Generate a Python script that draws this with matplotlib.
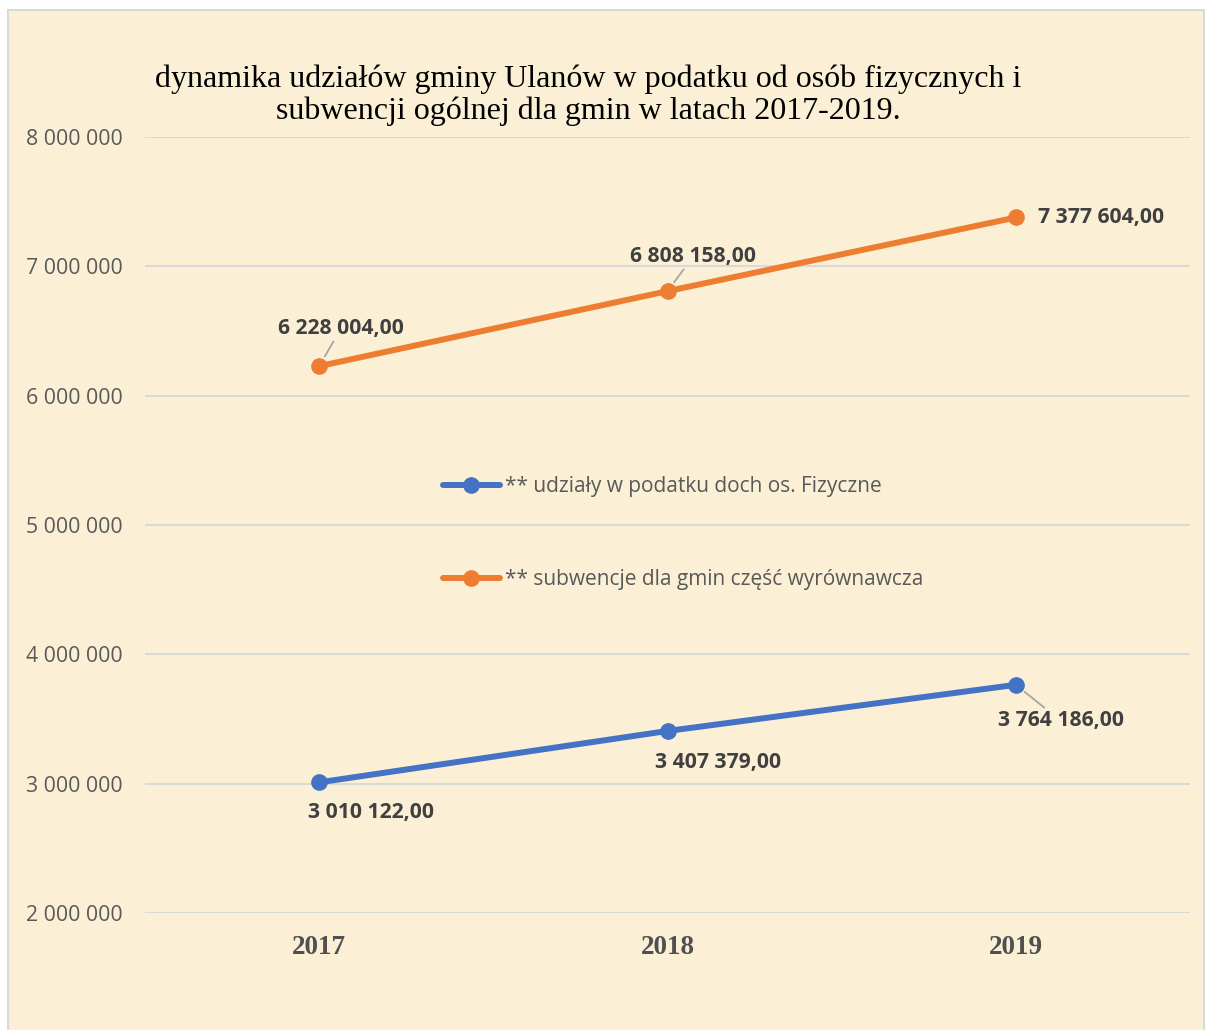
import matplotlib.pyplot as plt
from matplotlib.patches import Rectangle

years = ["2017", "2018", "2019"]
pit_shares = [3010122.00, 3407379.00, 3764186.00]
subsidies = [6228004.00, 6808158.00, 7377604.00]
pit_label = "** udziały w podatku doch os. Fizyczne"
sub_label = "** subwencje dla gmin część wyrównawcza"
title = "dynamika udziałów gminy Ulanów w podatku od osób fizycznych i\nsubwencji ogólnej dla gmin w latach 2017-2019."

blue = "#4472C4"
orange = "#ED7D31"
bg = "#FBF0D6"
sans = "Open Sans"
serif = "Liberation Serif"


def fmt_label(v):
    s = f"{v:,.2f}"
    return s.replace(",", " ").replace(".", ",")


def fmt_tick(v, pos=None):
    return f"{v:,.0f}".replace(",", " ")


fig = plt.figure(figsize=(12.08, 10.30), dpi=100)
fig.patch.set_facecolor("white")
# chart area frame
frame = Rectangle((8 / 1208, -0.01), 1196 / 1208, 1 - 10 / 1030 + 0.01,
                  transform=fig.transFigure, facecolor=bg,
                  edgecolor="#D9D9D9", linewidth=1.5, zorder=-10)
fig.add_artist(frame)

ax = fig.add_axes([145 / 1208, 1 - 913 / 1030, 1045 / 1208, 776 / 1030])
ax.set_facecolor("none")
ax.set_zorder(1)
x = range(len(years))

ax.plot(x, pit_shares, color=blue, lw=4.3, marker="o", ms=11, label=pit_label, zorder=3,
        solid_capstyle="round")
ax.plot(x, subsidies, color=orange, lw=4.3, marker="o", ms=11, label=sub_label, zorder=3,
        solid_capstyle="round")

ax.set_xlim(-0.5, 2.5)
ax.set_ylim(2000000, 8000000)
ax.set_yticks(range(2000000, 8000001, 1000000))
ax.yaxis.set_major_formatter(plt.FuncFormatter(fmt_tick))
ax.set_xticks(list(x))
ax.set_xticklabels(years, fontfamily=serif, fontweight="bold", fontsize=19.5, color="#505050")
for t in ax.get_yticklabels():
    t.set_fontfamily(sans)
    t.set_fontsize(15.3)
    t.set_color("#595959")
ax.tick_params(length=0)
ax.tick_params(axis="y", pad=16)
ax.tick_params(axis="x", pad=16)
ax.grid(axis="y", color="#D9D9D9", lw=1.5)
ax.set_axisbelow(True)
for s in ax.spines.values():
    s.set_visible(False)

# data labels (offsets in pixels), leader line flag
lab_kw = dict(textcoords="offset pixels", fontfamily=sans, fontweight="bold",
              fontsize=15.2, color="#404040", ha="center", va="center")
leader = dict(arrowstyle="-", color="#A6A6A6", lw=1.3, shrinkA=0, shrinkB=8)
sub_offsets = [(22, 38, True), (26, 35, True), (85, 0, False)]
pit_offsets = [(52, -30, False), (51, -32, False), (45, -36, True)]
for i, (dx, dy, ld) in enumerate(sub_offsets):
    ax.annotate(fmt_label(subsidies[i]), (i, subsidies[i]), xytext=(dx, dy),
                arrowprops=leader if ld else None, **lab_kw)
for i, (dx, dy, ld) in enumerate(pit_offsets):
    ax.annotate(fmt_label(pit_shares[i]), (i, pit_shares[i]), xytext=(dx, dy),
                arrowprops=leader if ld else None, **lab_kw)

leg = ax.legend(loc="upper left", bbox_to_anchor=(290 / 1045, (913 - 468) / 776),
                frameon=False, prop={"family": sans, "size": 15},
                labelspacing=3.45, handlelength=2.7, handletextpad=0.25,
                borderaxespad=0)
for t in leg.get_texts():
    t.set_color("#595959")

fig.text(588 / 1208, 1 - 95 / 1030, title, ha="center", va="center",
         fontfamily=serif, fontsize=23, color="black", linespacing=1.1)

fig.savefig("out.png", dpi=100, facecolor=fig.get_facecolor())
